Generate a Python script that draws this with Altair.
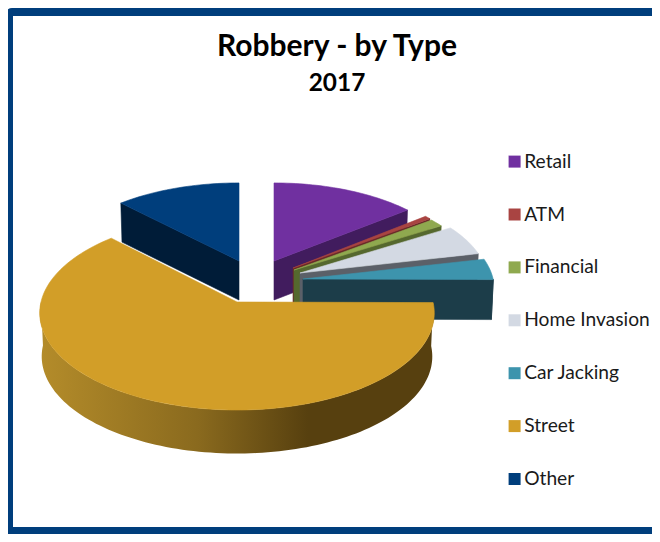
import math
import altair as alt
import pandas as pd

categories = ["Retail", "ATM", "Financial", "Home Invasion", "Car Jacking", "Street", "Other"]
values = [142, 6, 14, 53, 36, 627, 122]
top_colors = ["#7030a0", "#a94442", "#8fa94f", "#d3d9e3", "#3d94ad", "#d29e28", "#003e7c"]
wall_colors = ["#411c5e", "#692a28", "#55682e", "#5b6068", "#1c3d49", "#57400f", "#001c38"]
title_lines = ["Robbery - by Type", "2017"]

# layout of the exploded 3D pie, in page pixels
apex_x = [274, 293, 294, 300, 303, 237, 239]
apex_y = [261, 268, 270, 273, 279, 302, 261]
scale_x = [0.937, 0.93, 0.935, 0.955, 0.97, 1.0, 0.94]
scale_y = [0.907, 0.92, 0.93, 0.95, 0.97, 1.0, 0.907]
depths = [39, 39, 39, 39, 40, 43.5, 39]
RX, RY, PERSP, SHRINK = 196, 95.8, 0.113, 0.99
FRAME = "#003e7c"

total = sum(values)


def project(i, theta, bottom=False):
    u, v = math.sin(math.radians(theta)), math.cos(math.radians(theta))
    w = 1 + PERSP * v
    dx, dy = scale_x[i] * RX * u / w, -scale_y[i] * RY * v / w
    if bottom:
        return apex_x[i] + dx * SHRINK, apex_y[i] + dy + depths[i]
    return apex_x[i] + dx, apex_y[i] + dy


def arc(i, t0, t1, bottom=False):
    n = max(2, int(abs(t1 - t0) / 1.5))
    return [project(i, t0 + (t1 - t0) * j / n, bottom) for j in range(n + 1)]


def apex(i, bottom=False):
    return (apex_x[i], apex_y[i] + (depths[i] if bottom else 0))


X = alt.X("x:Q", axis=None, scale=alt.Scale(domain=[8, 652], nice=False, zero=False))
Y = alt.Y("y:Q", axis=None, scale=alt.Scale(domain=[534, 8], nice=False, zero=False))


def poly(points, fill):
    pts = points + [points[0]]
    df = pd.DataFrame({"x": [p[0] for p in pts], "y": [p[1] for p in pts], "i": range(len(pts))})
    if isinstance(fill, str):
        mark = alt.Chart(df).mark_line(fill=fill, stroke=fill, strokeWidth=0.6, interpolate="linear")
    else:
        mark = alt.Chart(df).mark_line(fill=fill, strokeWidth=0, interpolate="linear")
    return mark.encode(x=X, y=Y, order="i:Q")


bands = []
start = 0.0
for i, val in enumerate(values):
    bands.append((start, start + val / total * 360))
    start += val / total * 360

street_gradient = {
    "gradient": "linear", "x1": 0, "x2": 1, "y1": 0, "y2": 0,
    "stops": [
        {"offset": 0, "color": "#b48c2a"},
        {"offset": 0.4, "color": "#8a6a1e"},
        {"offset": 0.68, "color": "#57400f"},
        {"offset": 1, "color": "#57400f"},
    ],
}

layers = []
legend_df = pd.DataFrame({"category": categories, "x": [237] * 7, "y": [330] * 7})
layers.append(
    alt.Chart(legend_df).mark_square(size=1, opacity=1).encode(
        x=X, y=Y,
        fill=alt.Fill(
            "category:N",
            scale=alt.Scale(domain=categories, range=top_colors),
            legend=alt.Legend(
                orient="none", legendX=497, legendY=144, title=None, symbolType="square",
                symbolSize=144, symbolStrokeWidth=0, symbolOpacity=1, labelFont="Lato", labelFontSize=19.2,
                labelColor="#1a1a1a", rowPadding=32.9, labelOffset=0, padding=0, values=categories,
            ),
        ),
    )
)

draw_order = [6, 0, 1, 2, 3, 4, 5]
for i in draw_order:
    t0, t1 = bands[i]
    if math.sin(math.radians(t0)) < -1e-6:
        layers.append(poly([apex(i), project(i, t0), project(i, t0, True), apex(i, True)], wall_colors[i]))
    if math.sin(math.radians(t1)) > 1e-6 or abs(t1 - 90) < 1:
        layers.append(poly([apex(i), project(i, t1), project(i, t1, True), apex(i, True)], wall_colors[i]))
    lo, hi = max(t0, 90), min(t1, 270)
    if hi > lo:
        fill = street_gradient if categories[i] == "Street" else wall_colors[i]
        layers.append(poly(arc(i, lo, hi) + arc(i, hi, lo, True), fill))
    layers.append(poly([apex(i)] + arc(i, t0, t1), top_colors[i]))

title_df = pd.DataFrame({"label": [title_lines[0]]})
sub_df = pd.DataFrame({"label": [title_lines[1]]})
layers.append(alt.Chart(title_df).mark_text(font="Lato", fontWeight="bold", fontSize=30, color="#000000", baseline="alphabetic").encode(
    x=alt.value(329), y=alt.value(48), text="label:N"))
layers.append(alt.Chart(sub_df).mark_text(font="Lato", fontWeight="bold", fontSize=24.4, color="#000000", baseline="alphabetic").encode(
    x=alt.value(329), y=alt.value(83), text="label:N"))

frame_df = pd.DataFrame({"a": [0]})
layers.append(alt.Chart(frame_df).mark_rect(filled=False, stroke=FRAME, strokeWidth=8, cornerRadius=3).encode(
    x=alt.value(1), x2=alt.value(664), y=alt.value(4), y2=alt.value(523)))

chart = alt.layer(*layers).properties(
    width=644, height=526, padding=0, background="#ffffff",
    autosize=alt.AutoSizeParams(type="none"),
).configure_view(stroke=None)

chart.save("out.html", embed_options={"renderer": "svg", "actions": False})
